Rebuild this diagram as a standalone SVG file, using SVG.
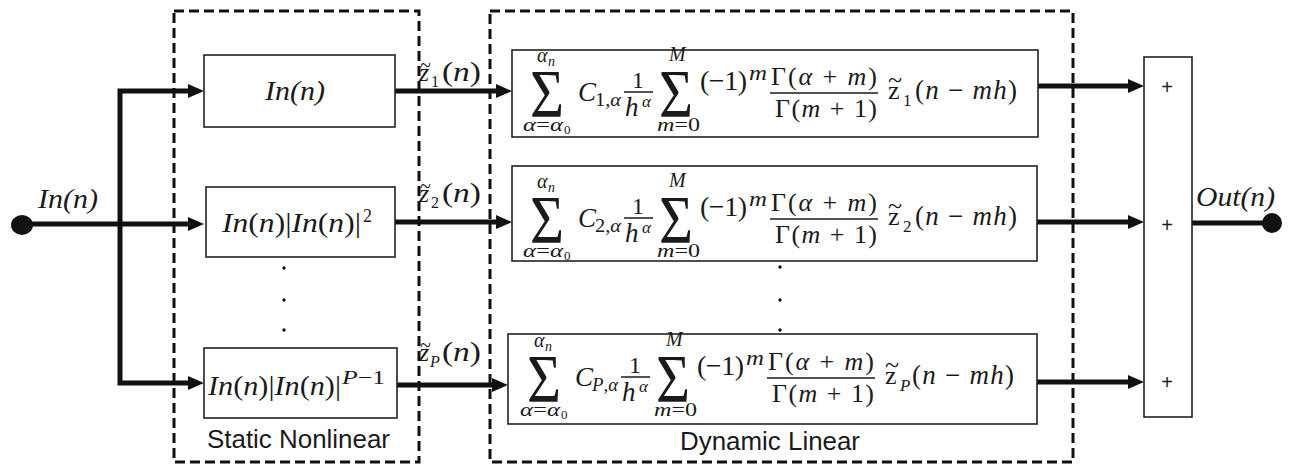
<svg xmlns="http://www.w3.org/2000/svg" width="1292" height="466" viewBox="0 0 1292 466">
<style>
.m{font-family:"Liberation Serif","Times New Roman",serif;fill:#1a1a1a}
.i{font-style:italic}
.lbl{font-family:"Liberation Sans",Arial,sans-serif;fill:#1a1a1a}
.box{fill:#fff;stroke:#222;stroke-width:1.6}
.dash{fill:none;stroke:#111;stroke-width:3;stroke-dasharray:10 5}
.wire{fill:none;stroke:#111;stroke-width:5}
.arr{fill:none;stroke:#111;stroke-width:5;marker-end:url(#ah)}
.bar{stroke:#1a1a1a;stroke-width:1.5}
.dot{fill:#111}
.sig{font-size:68px}
</style>
<defs>
<marker id="ah" markerUnits="userSpaceOnUse" markerWidth="16" markerHeight="14" refX="2" refY="7" orient="auto">
<path d="M0,0 L16,7 L0,14 z" fill="#111"/>
</marker>
</defs>
<rect width="1292" height="466" fill="#fff"/>

<g id="static-group">
<rect class="dash" x="174" y="11" width="245" height="451"/>
<text class="lbl" x="207" y="448" font-size="25" textLength="183" lengthAdjust="spacingAndGlyphs">Static Nonlinear</text>
</g>
<g id="dynamic-group">
<rect class="dash" x="490" y="11" width="583" height="451"/>
<text class="lbl" x="680" y="450" font-size="25" textLength="180" lengthAdjust="spacingAndGlyphs">Dynamic Linear</text>
</g>

<g id="connectors">
<path class="wire" d="M22,224 H120"/>
<path class="arr" d="M120,224 H190"/>
<path class="arr" d="M120,226 V91 H190"/>
<path class="arr" d="M120,222 V383 H190"/>
<path class="arr" d="M395,91 H498"/>
<path class="arr" d="M395,222 H498"/>
<path class="arr" d="M397,385 H494"/>
<path class="arr" d="M1038,86 H1130"/>
<path class="arr" d="M1037,222 H1130"/>
<path class="arr" d="M1037,382 H1130"/>
<path class="wire" d="M1192,223 H1272"/>
<g class="m">
<text x="420" y="72" font-size="20">~</text>
<text class="i" x="419" y="81" font-size="26">z</text>
<text x="431" y="87" font-size="16">1</text>
<text x="442" y="81" font-size="28" textLength="39" lengthAdjust="spacingAndGlyphs">(<tspan class="i">n</tspan>)</text>
<text x="420" y="193" font-size="20">~</text>
<text class="i" x="419" y="202" font-size="26">z</text>
<text x="431" y="208" font-size="16">2</text>
<text x="442" y="202" font-size="28" textLength="39" lengthAdjust="spacingAndGlyphs">(<tspan class="i">n</tspan>)</text>
<text x="420" y="352" font-size="20">~</text>
<text class="i" x="419" y="361" font-size="26">z</text>
<text class="i" x="430" y="367" font-size="16">P</text>
<text x="442" y="361" font-size="28" textLength="39" lengthAdjust="spacingAndGlyphs">(<tspan class="i">n</tspan>)</text>
</g>
</g>

<g id="input">
<ellipse class="dot" cx="22" cy="225" rx="11" ry="10"/>
<text class="m i" x="38" y="208" font-size="27" textLength="60" lengthAdjust="spacingAndGlyphs">In(n)</text>
</g>
<g id="output">
<circle class="dot" cx="1272" cy="223" r="10"/>
<text class="m i" x="1196" y="206" font-size="27" textLength="79" lengthAdjust="spacingAndGlyphs">Out(n)</text>
</g>

<g id="nl1">
<rect class="box" x="204" y="55" width="191" height="72"/>
<text class="m i" x="265" y="100" font-size="28" textLength="60" lengthAdjust="spacingAndGlyphs">In(n)</text>
</g>
<g id="nl2">
<rect class="box" x="206" y="187" width="189" height="70"/>
<text class="m" x="222" y="232" font-size="28" textLength="139" lengthAdjust="spacingAndGlyphs"><tspan class="i">In</tspan>(<tspan class="i">n</tspan>)|<tspan class="i">In</tspan>(<tspan class="i">n</tspan>)|</text>
<text class="m" x="363" y="222" font-size="18">2</text>
</g>
<g id="nl-dots">
<circle class="dot" cx="284" cy="268" r="1.7"/>
<circle class="dot" cx="284" cy="300" r="1.7"/>
<circle class="dot" cx="284" cy="330" r="1.7"/>
</g>
<g id="nlP">
<rect class="box" x="204" y="348" width="193" height="70"/>
<text class="m" x="208" y="395" font-size="28" textLength="133" lengthAdjust="spacingAndGlyphs"><tspan class="i">In</tspan>(<tspan class="i">n</tspan>)|<tspan class="i">In</tspan>(<tspan class="i">n</tspan>)|</text>
<text class="m" x="342" y="384" font-size="19" textLength="43" lengthAdjust="spacingAndGlyphs"><tspan class="i">P</tspan>−1</text>
</g>

<g id="dl1">
<rect class="box" x="512" y="50" width="526" height="87"/>
<g class="m">
<text class="sig" transform="translate(530,116) scale(0.86,1)">Σ</text>
<text class="i" x="537" y="62" font-size="20">α</text>
<text class="i" x="548" y="66" font-size="14">n</text>
<text x="523" y="131" font-size="19" textLength="40" lengthAdjust="spacingAndGlyphs"><tspan class="i">α</tspan>=<tspan class="i">α</tspan></text>
<text x="564" y="134" font-size="13">0</text>
<text class="i" x="578" y="101" font-size="27">C</text>
<text x="595" y="106" font-size="18" textLength="26" lengthAdjust="spacingAndGlyphs">1,<tspan class="i">α</tspan></text>
<text x="632" y="88" font-size="24">1</text>
<line class="bar" x1="624" y1="92" x2="653" y2="92"/>
<text class="i" x="625" y="116" font-size="27">h</text>
<text class="i" x="642" y="107" font-size="17">α</text>
<text class="sig" transform="translate(659,116) scale(0.86,1)">Σ</text>
<text class="i" x="669" y="61" font-size="20">M</text>
<text x="657" y="131" font-size="19" textLength="43" lengthAdjust="spacingAndGlyphs"><tspan class="i">m</tspan>=0</text>
<text x="700" y="90" font-size="28" textLength="47" lengthAdjust="spacing">(−1)</text>
<text class="i" x="749" y="80" font-size="20" textLength="18" lengthAdjust="spacingAndGlyphs">m</text>
<text x="771" y="85" font-size="26" textLength="106" lengthAdjust="spacing">Γ(<tspan class="i">α</tspan> + <tspan class="i">m</tspan>)</text>
<line class="bar" x1="770" y1="93" x2="878" y2="93"/>
<text x="775" y="117" font-size="26" textLength="102" lengthAdjust="spacing">Γ(<tspan class="i">m</tspan> + 1)</text>
<text x="888" y="88" font-size="26">~</text>
<text x="888" y="99" font-size="26">z</text>
<text x="903" y="106" font-size="17">1</text>
<text x="915" y="99" font-size="27" textLength="102" lengthAdjust="spacing">(<tspan class="i">n</tspan> − <tspan class="i">mh</tspan>)</text>
</g>
</g>

<g id="dl2">
<rect class="box" x="512" y="166" width="525" height="95"/>
<g class="m" transform="translate(0,126)">
<text class="sig" transform="translate(530,116) scale(0.86,1)">Σ</text>
<text class="i" x="537" y="62" font-size="20">α</text>
<text class="i" x="548" y="66" font-size="14">n</text>
<text x="523" y="131" font-size="19" textLength="40" lengthAdjust="spacingAndGlyphs"><tspan class="i">α</tspan>=<tspan class="i">α</tspan></text>
<text x="564" y="134" font-size="13">0</text>
<text class="i" x="578" y="101" font-size="27">C</text>
<text x="595" y="106" font-size="18" textLength="26" lengthAdjust="spacingAndGlyphs">2,<tspan class="i">α</tspan></text>
<text x="632" y="88" font-size="24">1</text>
<line class="bar" x1="624" y1="92" x2="653" y2="92"/>
<text class="i" x="625" y="116" font-size="27">h</text>
<text class="i" x="642" y="107" font-size="17">α</text>
<text class="sig" transform="translate(659,116) scale(0.86,1)">Σ</text>
<text class="i" x="669" y="61" font-size="20">M</text>
<text x="657" y="131" font-size="19" textLength="43" lengthAdjust="spacingAndGlyphs"><tspan class="i">m</tspan>=0</text>
<text x="700" y="90" font-size="28" textLength="47" lengthAdjust="spacing">(−1)</text>
<text class="i" x="749" y="80" font-size="20" textLength="18" lengthAdjust="spacingAndGlyphs">m</text>
<text x="771" y="85" font-size="26" textLength="106" lengthAdjust="spacing">Γ(<tspan class="i">α</tspan> + <tspan class="i">m</tspan>)</text>
<line class="bar" x1="770" y1="93" x2="878" y2="93"/>
<text x="775" y="117" font-size="26" textLength="102" lengthAdjust="spacing">Γ(<tspan class="i">m</tspan> + 1)</text>
<text x="888" y="88" font-size="26">~</text>
<text x="888" y="99" font-size="26">z</text>
<text x="903" y="106" font-size="17">2</text>
<text x="915" y="99" font-size="27" textLength="102" lengthAdjust="spacing">(<tspan class="i">n</tspan> − <tspan class="i">mh</tspan>)</text>
</g>
</g>

<g id="dl-dots">
<circle class="dot" cx="780" cy="267" r="1.7"/>
<circle class="dot" cx="780" cy="300" r="1.7"/>
<circle class="dot" cx="780" cy="330" r="1.7"/>
</g>

<g id="dlP">
<rect class="box" x="508" y="334" width="529" height="90"/>
<g class="m" transform="translate(-3,285)">
<text class="sig" transform="translate(530,116) scale(0.86,1)">Σ</text>
<text class="i" x="537" y="62" font-size="20">α</text>
<text class="i" x="548" y="66" font-size="14">n</text>
<text x="523" y="131" font-size="19" textLength="40" lengthAdjust="spacingAndGlyphs"><tspan class="i">α</tspan>=<tspan class="i">α</tspan></text>
<text x="564" y="134" font-size="13">0</text>
<text class="i" x="578" y="101" font-size="27">C</text>
<text x="595" y="106" font-size="18" textLength="26" lengthAdjust="spacingAndGlyphs"><tspan class="i">P</tspan>,<tspan class="i">α</tspan></text>
<text x="632" y="88" font-size="24">1</text>
<line class="bar" x1="624" y1="92" x2="653" y2="92"/>
<text class="i" x="625" y="116" font-size="27">h</text>
<text class="i" x="642" y="107" font-size="17">α</text>
<text class="sig" transform="translate(659,116) scale(0.86,1)">Σ</text>
<text class="i" x="669" y="61" font-size="20">M</text>
<text x="657" y="131" font-size="19" textLength="43" lengthAdjust="spacingAndGlyphs"><tspan class="i">m</tspan>=0</text>
<text x="700" y="90" font-size="28" textLength="47" lengthAdjust="spacing">(−1)</text>
<text class="i" x="749" y="80" font-size="20" textLength="18" lengthAdjust="spacingAndGlyphs">m</text>
<text x="771" y="85" font-size="26" textLength="106" lengthAdjust="spacing">Γ(<tspan class="i">α</tspan> + <tspan class="i">m</tspan>)</text>
<line class="bar" x1="770" y1="93" x2="878" y2="93"/>
<text x="775" y="117" font-size="26" textLength="102" lengthAdjust="spacing">Γ(<tspan class="i">m</tspan> + 1)</text>
<text x="888" y="88" font-size="26">~</text>
<text x="888" y="99" font-size="26">z</text>
<text class="i" x="903" y="106" font-size="17">P</text>
<text x="915" y="99" font-size="27" textLength="102" lengthAdjust="spacing">(<tspan class="i">n</tspan> − <tspan class="i">mh</tspan>)</text>
</g>
</g>

<g id="sum">
<rect class="box" x="1144" y="57" width="48" height="360"/>
<text class="lbl" x="1167" y="94" font-size="20" text-anchor="middle">+</text>
<text class="lbl" x="1167" y="232" font-size="20" text-anchor="middle">+</text>
<text class="lbl" x="1167" y="389" font-size="20" text-anchor="middle">+</text>
</g>
</svg>
